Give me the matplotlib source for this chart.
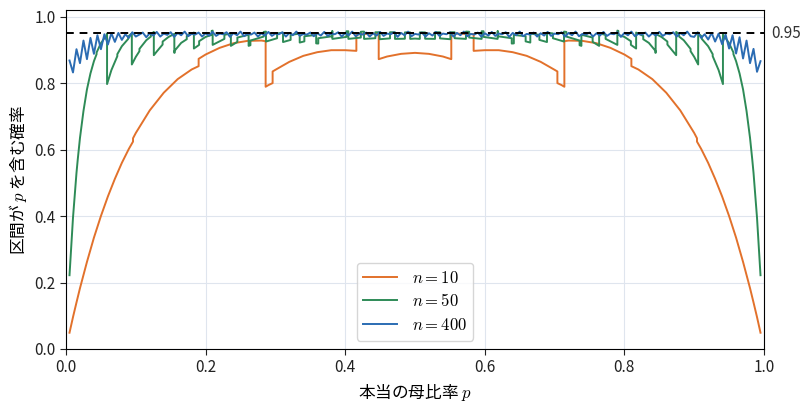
import numpy as np
import matplotlib
matplotlib.use("Agg")
import matplotlib.pyplot as plt

plt.rcParams['font.family'] = ['Noto Sans CJK JP', 'DejaVu Sans']
plt.rcParams['mathtext.fontset'] = 'cm'
plt.rcParams['axes.unicode_minus'] = False

# n = 10
p10 = [0.005, 0.01, 0.015, 0.02, 0.03, 0.04, 0.05, 0.06, 0.07, 0.08, 0.09, 0.096, 0.096,
       0.10, 0.12, 0.14, 0.16, 0.18, 0.19, 0.19, 0.20, 0.22, 0.24, 0.26, 0.28, 0.286, 0.286,
       0.29, 0.296, 0.296, 0.30, 0.32, 0.34, 0.36, 0.38, 0.40, 0.416, 0.416, 0.42, 0.44,
       0.448, 0.448, 0.46, 0.48, 0.50,
       0.52, 0.54, 0.552, 0.552, 0.56, 0.58, 0.584, 0.584, 0.60, 0.62, 0.64, 0.66, 0.68,
       0.70, 0.704, 0.704, 0.71, 0.714, 0.714, 0.72, 0.74, 0.76, 0.78, 0.80, 0.81, 0.81,
       0.82, 0.84, 0.86, 0.88, 0.90, 0.904, 0.904, 0.91, 0.92, 0.93, 0.94, 0.95, 0.96,
       0.97, 0.98, 0.985, 0.99, 0.995]
cov10 = [0.049, 0.096, 0.140, 0.183, 0.262, 0.335, 0.400, 0.459, 0.512, 0.560, 0.602, 0.624, 0.634,
         0.650, 0.718, 0.771, 0.812, 0.841, 0.851, 0.873, 0.886, 0.906, 0.920, 0.927, 0.928, 0.926, 0.789,
         0.794, 0.800, 0.835, 0.840, 0.864, 0.882, 0.893, 0.899, 0.899, 0.897, 0.948, 0.947, 0.949,
         0.949, 0.872, 0.880, 0.888, 0.891,
         0.888, 0.880, 0.872, 0.949, 0.949, 0.947, 0.948, 0.897, 0.899, 0.899, 0.893, 0.882, 0.864,
         0.840, 0.835, 0.800, 0.794, 0.789, 0.926, 0.928, 0.927, 0.920, 0.906, 0.886, 0.873, 0.851,
         0.841, 0.812, 0.771, 0.718, 0.650, 0.634, 0.624, 0.602, 0.560, 0.512, 0.459, 0.400, 0.335,
         0.262, 0.183, 0.140, 0.096, 0.049]

# n = 50
p50 = [0.005, 0.01, 0.015, 0.0168, 0.02, 0.025, 0.03, 0.035, 0.04, 0.0438, 0.0438, 0.05, 0.055,
       0.0584, 0.0584, 0.0588, 0.0588, 0.065, 0.0735, 0.0735, 0.08, 0.0891, 0.0891, 0.0943, 0.0943,
       0.10, 0.1052, 0.1052, 0.115, 0.1216, 0.1216, 0.1258, 0.1258, 0.13, 0.1384, 0.1384, 0.147,
       0.1552, 0.1552, 0.1555, 0.1555, 0.165, 0.173, 0.173, 0.1832, 0.1832, 0.1907, 0.1907, 0.20,
       0.2087, 0.2087, 0.2101, 0.2101, 0.2269, 0.2269, 0.2362, 0.2362, 0.2455, 0.2455, 0.2616, 0.2616,
       0.2642, 0.2642, 0.2832, 0.2832, 0.2865, 0.2865, 0.3024, 0.3024, 0.3109, 0.3109, 0.3218, 0.3218,
       0.3348, 0.3348, 0.3415, 0.3415, 0.3584, 0.3584, 0.3614, 0.3614, 0.3815, 0.3815, 0.3816,
       0.4018, 0.4018, 0.4045, 0.4045, 0.4224, 0.4224, 0.4270, 0.4270, 0.4432, 0.4432, 0.4493, 0.4493,
       0.4642, 0.4642, 0.4713, 0.4713, 0.4855, 0.4855, 0.4931, 0.4931, 0.50,
       0.5069, 0.5069, 0.5145, 0.5145, 0.5287, 0.5287, 0.5358, 0.5358, 0.5507, 0.5507, 0.5568, 0.5568,
       0.5730, 0.5730, 0.5776, 0.5776, 0.5955, 0.5955, 0.5982, 0.5982, 0.6184, 0.6185, 0.6185,
       0.6386, 0.6386, 0.6416, 0.6416, 0.6585, 0.6585, 0.6652, 0.6652, 0.6782, 0.6782, 0.6891, 0.6891,
       0.6976, 0.6976, 0.7135, 0.7135, 0.7168, 0.7168, 0.7358, 0.7358, 0.7384, 0.7384, 0.7545, 0.7545,
       0.7638, 0.7638, 0.7731, 0.7731, 0.7899, 0.7899, 0.7913, 0.7913, 0.80, 0.8093, 0.8093,
       0.8168, 0.8168, 0.827, 0.827, 0.835, 0.8445, 0.8445, 0.8448, 0.8448, 0.853, 0.8616, 0.8616,
       0.87, 0.8742, 0.8742, 0.8784, 0.8784, 0.885, 0.8948, 0.8948, 0.90, 0.9057, 0.9057, 0.9109,
       0.9109, 0.92, 0.9265, 0.9265, 0.935, 0.9412, 0.9412, 0.9416, 0.9416, 0.945, 0.95, 0.9562,
       0.9562, 0.96, 0.965, 0.97, 0.975, 0.98, 0.9832, 0.985, 0.99, 0.995]
cov50 = [0.222, 0.395, 0.530, 0.570, 0.635, 0.716, 0.781, 0.829, 0.866, 0.887, 0.892, 0.920, 0.935,
         0.943, 0.948, 0.948, 0.797, 0.839, 0.881, 0.887, 0.911, 0.933, 0.940, 0.950, 0.856,
         0.879, 0.896, 0.903, 0.929, 0.940, 0.947, 0.954, 0.884, 0.895, 0.916, 0.925, 0.939,
         0.948, 0.891, 0.891, 0.897, 0.921, 0.932, 0.942, 0.952, 0.904, 0.915, 0.926, 0.939,
         0.945, 0.957, 0.958, 0.915, 0.933, 0.945, 0.950, 0.912, 0.924, 0.937, 0.9455, 0.912,
         0.914, 0.928, 0.940, 0.954, 0.955, 0.925, 0.935, 0.9495, 0.9515, 0.9235, 0.930, 0.945,
         0.949, 0.922, 0.9255, 0.941, 0.945, 0.9195, 0.919, 0.935, 0.941, 0.957, 0.933,
         0.939, 0.956, 0.956, 0.933, 0.937, 0.9545, 0.955, 0.933, 0.935, 0.953, 0.953, 0.932,
         0.9345, 0.953, 0.953, 0.933, 0.9335, 0.9525, 0.9525, 0.933, 0.934,
         0.933, 0.9525, 0.9525, 0.9335, 0.933, 0.953, 0.953, 0.9345, 0.932, 0.953, 0.953, 0.935,
         0.933, 0.955, 0.9545, 0.937, 0.933, 0.956, 0.956, 0.939, 0.933, 0.957, 0.941,
         0.935, 0.919, 0.9195, 0.945, 0.941, 0.9255, 0.922, 0.949, 0.945, 0.930, 0.9235, 0.9515,
         0.9495, 0.935, 0.925, 0.955, 0.954, 0.940, 0.928, 0.914, 0.912, 0.9455, 0.937, 0.924,
         0.912, 0.950, 0.945, 0.933, 0.915, 0.958, 0.957, 0.945, 0.939, 0.926, 0.915,
         0.904, 0.952, 0.942, 0.932, 0.921, 0.897, 0.891, 0.891, 0.948, 0.939, 0.925, 0.916,
         0.895, 0.884, 0.954, 0.947, 0.940, 0.929, 0.903, 0.896, 0.879, 0.856, 0.950, 0.940,
         0.933, 0.911, 0.887, 0.881, 0.839, 0.797, 0.948, 0.948, 0.943, 0.935, 0.920, 0.892,
         0.887, 0.866, 0.829, 0.781, 0.716, 0.635, 0.570, 0.530, 0.395, 0.222]

# n = 400 (sampled every 0.005)
p400 = np.round(np.arange(1, 200) * 0.005, 3)
cov400 = [0.868, 0.832, 0.902, 0.860, 0.928, 0.872, 0.936, 0.888, 0.944, 0.902,
          0.947, 0.916, 0.950, 0.924, 0.951, 0.930, 0.947, 0.936, 0.953, 0.940,
          0.946, 0.952, 0.938, 0.950, 0.943, 0.954, 0.940, 0.949, 0.945, 0.953,
          0.939, 0.951, 0.944, 0.955, 0.941, 0.948, 0.946, 0.952, 0.940, 0.950,
          0.943, 0.954, 0.942, 0.949, 0.947, 0.953, 0.939, 0.951, 0.944, 0.955,
          0.941, 0.948, 0.946, 0.952, 0.940, 0.950, 0.943, 0.954, 0.942, 0.949,
          0.947, 0.953, 0.940, 0.951, 0.944, 0.955, 0.942, 0.948, 0.946, 0.952,
          0.941, 0.950, 0.943, 0.954, 0.942, 0.949, 0.947, 0.953, 0.940, 0.951,
          0.944, 0.955, 0.941, 0.948, 0.946, 0.952, 0.940, 0.950, 0.943, 0.954,
          0.942, 0.949, 0.947, 0.953, 0.939, 0.951, 0.944, 0.955, 0.941, 0.948,
          0.946, 0.952, 0.940, 0.950, 0.943, 0.954, 0.942, 0.949, 0.947, 0.953,
          0.940, 0.951, 0.944, 0.955, 0.941, 0.948, 0.946, 0.952, 0.940, 0.950,
          0.943, 0.954, 0.942, 0.949, 0.947, 0.953, 0.939, 0.951, 0.944, 0.955,
          0.941, 0.948, 0.946, 0.952, 0.940, 0.950, 0.943, 0.954, 0.942, 0.949,
          0.947, 0.953, 0.940, 0.951, 0.944, 0.955, 0.941, 0.948, 0.946, 0.952,
          0.940, 0.950, 0.943, 0.954, 0.942, 0.949, 0.947, 0.953, 0.939, 0.951,
          0.944, 0.955, 0.941, 0.948, 0.946, 0.952, 0.940, 0.950, 0.943, 0.954,
          0.942, 0.949, 0.947, 0.953, 0.940, 0.951, 0.944, 0.955, 0.941,
          0.939, 0.953, 0.936, 0.947, 0.931, 0.951, 0.925, 0.949, 0.917, 0.946,
          0.904, 0.944, 0.889, 0.938, 0.874, 0.928, 0.860, 0.903, 0.834, 0.866]

nominal = 0.95

fig = plt.figure(figsize=(8.1, 4.09), dpi=100)
ax = fig.add_axes([0.0815, 0.1467, 0.8617, 0.8289])

ax.plot(p10, cov10, color='#e2712b', lw=1.4, label=r'$n=10$')
ax.plot(p50, cov50, color='#2e8b57', lw=1.4, label=r'$n=50$')
ax.plot(p400, cov400, color='#2b6cb3', lw=1.4, label=r'$n=400$')
ax.axhline(nominal, color='black', ls='--', lw=1.4, dashes=(4, 3))
ax.text(1.01, nominal, '0.95', transform=ax.get_yaxis_transform(), va='center', ha='left',
        fontsize=11, color='#333333')

ax.set_xlim(0, 1)
ax.set_ylim(0, 1.02)
ax.set_xticks([0, 0.2, 0.4, 0.6, 0.8, 1.0])
ax.set_yticks([0, 0.2, 0.4, 0.6, 0.8, 1.0])
ax.set_xticklabels(['0.0', '0.2', '0.4', '0.6', '0.8', '1.0'])
ax.set_yticklabels(['0.0', '0.2', '0.4', '0.6', '0.8', '1.0'])
ax.tick_params(labelsize=11, colors='#222222', length=4)
ax.grid(True, color='#dfe5ee', lw=0.8)
ax.set_axisbelow(True)
ax.set_xlabel('本当の母比率 $p$', fontsize=12)
ax.set_ylabel('区間が $p$ を含む確率', fontsize=12)

leg = ax.legend(loc='lower center', fontsize=12, frameon=True, borderpad=0.4,
                handlelength=2.0, labelspacing=0.4, handletextpad=0.9)
leg.get_frame().set_edgecolor('#cccccc')

fig.savefig('out.png', dpi=100)
